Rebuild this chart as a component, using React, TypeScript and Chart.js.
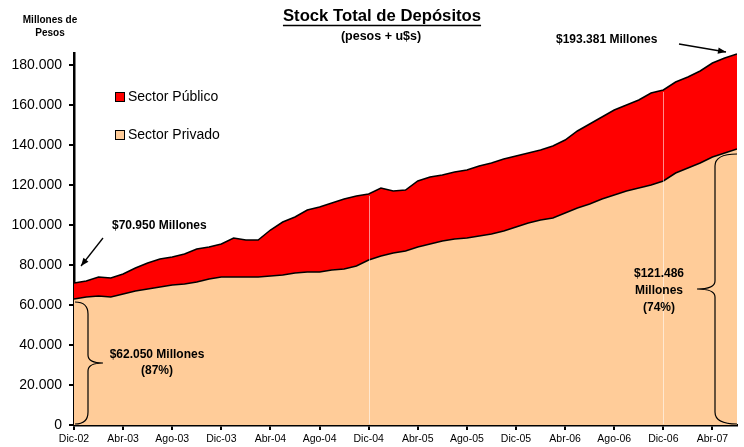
import React, { useEffect, useRef } from "react";
import { Chart, registerables } from "chart.js";

Chart.register(...registerables);

// Month index from Dic-02 (0) to Jun-07 (54)
const monthIndex = [
  0, 1, 2, 3, 4, 5, 6, 7, 8, 9, 10, 11, 12, 13, 14, 15, 16, 17, 18, 19, 20, 21, 22, 23, 24, 25, 26, 27,
  28, 29, 30, 31, 32, 33, 34, 35, 36, 37, 38, 39, 40, 41, 42, 43, 44, 45, 46, 47, 48, 49, 50, 51, 52,
  53, 54,
];

// Total deposits (Sector Público + Sector Privado), millions of pesos
const totalDepositos = [
  71000, 72000, 74000, 73500, 75500, 78500, 81000, 83000, 84000, 85500, 88000, 89000, 90500, 93500,
  92500, 92500, 97500, 101500, 104000, 107500, 109000, 111000, 113000, 114500, 115500, 118500, 117000,
  117500, 122000, 124000, 125000, 126500, 127500, 129500, 131000, 133000, 134500, 136000, 137500,
  139500, 142500, 147000, 150500, 154000, 157500, 160000, 162500, 166000, 167500, 171500, 174000,
  177000, 181000, 183500, 185500,
];

// Sector Privado deposits, millions of pesos
const sectorPrivado = [
  63000, 64000, 64500, 64000, 65500, 67000, 68000, 69000, 70000, 70500, 71500, 73000, 74000, 74000,
  74000, 74000, 74500, 75000, 76000, 76500, 76500, 77500, 78000, 79500, 82500, 84500, 86000, 87000,
  89000, 90500, 92000, 93000, 93500, 94500, 95500, 97000, 99000, 101000, 102500, 103500, 106000,
  108500, 110500, 113000, 115000, 117000, 118500, 120000, 122000, 126000, 128500, 131000, 134000,
  136000, 138000,
];

const tickLabels = [
  "Dic-02", "Abr-03", "Ago-03", "Dic-03", "Abr-04", "Ago-04", "Dic-04", "Abr-05", "Ago-05", "Dic-05",
  "Abr-06", "Ago-06", "Dic-06", "Abr-07",
];

const yTickValues = [0, 20000, 40000, 60000, 80000, 100000, 120000, 140000, 160000, 180000];

const seriesNames = ["Sector Público", "Sector Privado"];
const seriesColors = ["#FF0000", "#FFCC99"];
const lightLineMonths = [24, 48];

const FONT = "Arial, 'Liberation Sans', sans-serif";

function drawArrow(ctx: CanvasRenderingContext2D, x1: number, y1: number, x2: number, y2: number) {
  ctx.beginPath();
  ctx.moveTo(x1, y1);
  ctx.lineTo(x2, y2);
  ctx.stroke();
  const a = Math.atan2(y2 - y1, x2 - x1);
  const len = 8;
  const w = 3.2;
  ctx.beginPath();
  ctx.moveTo(x2, y2);
  ctx.lineTo(x2 - len * Math.cos(a) + w * Math.sin(a), y2 - len * Math.sin(a) - w * Math.cos(a));
  ctx.lineTo(x2 - len * Math.cos(a) - w * Math.sin(a), y2 - len * Math.sin(a) + w * Math.cos(a));
  ctx.closePath();
  ctx.fill();
}

function drawBrace(
  ctx: CanvasRenderingContext2D,
  x0: number,
  xv: number,
  tip: number,
  top: number,
  bottom: number
) {
  const mid = (top + bottom) / 2;
  const r = 12;
  ctx.beginPath();
  ctx.moveTo(x0, top);
  ctx.quadraticCurveTo(xv, top, xv, top + r);
  ctx.lineTo(xv, mid - 8);
  ctx.quadraticCurveTo(xv, mid, tip, mid);
  ctx.moveTo(tip, mid);
  ctx.quadraticCurveTo(xv, mid, xv, mid + 8);
  ctx.lineTo(xv, bottom - r);
  ctx.quadraticCurveTo(xv, bottom, x0, bottom);
  ctx.stroke();
}

const decorPlugin = {
  id: "decor",
  afterDatasetsDraw(chart: any) {
    const { ctx, scales } = chart;
    const xs = scales.x;
    const ys = scales.y;
    ctx.save();
    ctx.strokeStyle = "rgba(255,255,255,0.55)";
    ctx.lineWidth = 1;
    lightLineMonths.forEach((m) => {
      const px = Math.round(xs.getPixelForValue(m)) + 0.5;
      ctx.beginPath();
      ctx.moveTo(px, ys.getPixelForValue(totalDepositos[m]) + 2);
      ctx.lineTo(px, ys.getPixelForValue(0) - 1);
      ctx.stroke();
    });
    ctx.restore();
  },
  afterDraw(chart: any) {
    const { ctx, scales, chartArea } = chart;
    const ys = scales.y;
    ctx.save();
    ctx.fillStyle = "#000";
    ctx.strokeStyle = "#000";
    ctx.textBaseline = "middle";

    // Title
    ctx.textAlign = "center";
    ctx.font = `bold 16.7px ${FONT}`;
    const title = "Stock Total de Depósitos";
    ctx.fillText(title, 382, 16);
    const tw = ctx.measureText(title).width;
    ctx.lineWidth = 1.5;
    ctx.beginPath();
    ctx.moveTo(382 - tw / 2, 25.5);
    ctx.lineTo(382 + tw / 2, 25.5);
    ctx.stroke();
    ctx.font = `bold 12.5px ${FONT}`;
    ctx.fillText("(pesos + u$s)", 381, 37);

    // Y axis title
    ctx.font = `bold 10px ${FONT}`;
    ctx.fillText("Millones de", 50, 20);
    ctx.fillText("Pesos", 50, 33);

    // Legend
    ctx.textAlign = "left";
    ctx.font = `14px ${FONT}`;
    const legendY = [97, 135];
    seriesNames.forEach((name, i) => {
      ctx.fillStyle = seriesColors[i];
      ctx.fillRect(115.5, legendY[i] - 4.5, 9, 9);
      ctx.lineWidth = 1;
      ctx.strokeStyle = "#000";
      ctx.strokeRect(115.5, legendY[i] - 4.5, 9, 9);
      ctx.fillStyle = "#000";
      ctx.fillText(name, 128, legendY[i]);
    });

    // Annotations
    ctx.font = `bold 12px ${FONT}`;
    ctx.textAlign = "left";
    ctx.fillText("$70.950 Millones", 112, 226);
    ctx.fillText("$193.381 Millones", 556, 40);
    ctx.textAlign = "center";
    ctx.fillText("$62.050 Millones", 157, 355);
    ctx.fillText("(87%)", 157, 371);
    ctx.fillText("$121.486", 659, 274);
    ctx.fillText("Millones", 659, 291);
    ctx.fillText("(74%)", 659, 308);

    ctx.lineWidth = 1.3;
    drawArrow(ctx, 103, 238, 81, 266);
    drawArrow(ctx, 679, 44, 726, 52);

    // Braces
    ctx.lineWidth = 1.2;
    const bottom = ys.getPixelForValue(0) - 1;
    drawBrace(ctx, chartArea.left + 1, 88, 103, ys.getPixelForValue(sectorPrivado[0]) + 3, bottom);
    drawBrace(
      ctx,
      chartArea.right,
      715,
      697,
      ys.getPixelForValue(sectorPrivado[sectorPrivado.length - 1]) + 5,
      bottom
    );
    ctx.restore();
  },
};

export default function App() {
  const ref = useRef<HTMLCanvasElement | null>(null);

  useEffect(() => {
    document.body.style.margin = "0";
    if (!ref.current) return;
    const chart = new Chart(ref.current, {
      type: "line",
      data: {
        datasets: [
          {
            label: seriesNames[1],
            data: monthIndex.map((m, i) => ({ x: m, y: sectorPrivado[i] })),
            borderColor: "#000",
            borderWidth: 1.5,
            backgroundColor: seriesColors[1],
            fill: "origin",
            pointRadius: 0,
            tension: 0,
          },
          {
            label: seriesNames[0],
            data: monthIndex.map((m, i) => ({ x: m, y: totalDepositos[i] })),
            borderColor: "#000",
            borderWidth: 1.5,
            backgroundColor: seriesColors[0],
            fill: "-1",
            pointRadius: 0,
            tension: 0,
          },
        ],
      },
      options: {
        animation: false,
        responsive: true,
        maintainAspectRatio: false,
        layout: { padding: { top: 53, right: 7, left: 0, bottom: 0 } },
        plugins: {
          legend: { display: false },
          title: { display: false },
          tooltip: { enabled: false },
        },
        scales: {
          x: {
            type: "linear",
            min: 0,
            max: 54,
            border: { display: true, color: "#000", width: 2.5 },
            grid: {
              display: true,
              drawOnChartArea: false,
              drawTicks: true,
              tickLength: 5,
              color: "#000",
              lineWidth: 2,
            },
            ticks: {
              stepSize: 4,
              includeBounds: false,
              autoSkip: false,
              maxRotation: 0,
              color: "#000",
              font: { family: FONT, size: 10.5 },
              padding: 3,
              callback: (v: any) => {
                const idx = Number(v) / 4;
                return Number.isInteger(idx) && tickLabels[idx] ? tickLabels[idx] : null;
              },
            },
            afterFit: (s: any) => {
              s.height = 22;
            },
          },
          y: {
            type: "linear",
            min: 0,
            max: 186000,
            border: { display: true, color: "#000", width: 2.5 },
            grid: {
              display: true,
              drawOnChartArea: false,
              drawTicks: true,
              tickLength: 5,
              color: "#000",
              lineWidth: 2,
            },
            afterBuildTicks: (s: any) => {
              s.ticks = yTickValues.map((v) => ({ value: v }));
            },
            ticks: {
              autoSkip: false,
              color: "#000",
              font: { family: FONT, size: 14 },
              padding: 7,
              callback: (v: any) => {
                const n = Number(v);
                return n === 0 ? "0" : `${n / 1000}.000`;
              },
            },
            afterFit: (s: any) => {
              s.width = 74;
            },
          },
        },
      },
      plugins: [decorPlugin],
    });
    return () => chart.destroy();
  }, []);

  return (
    <div style={{ position: "absolute", left: 0, top: 0, width: 744, height: 447 }}>
      <canvas ref={ref} />
    </div>
  );
}
